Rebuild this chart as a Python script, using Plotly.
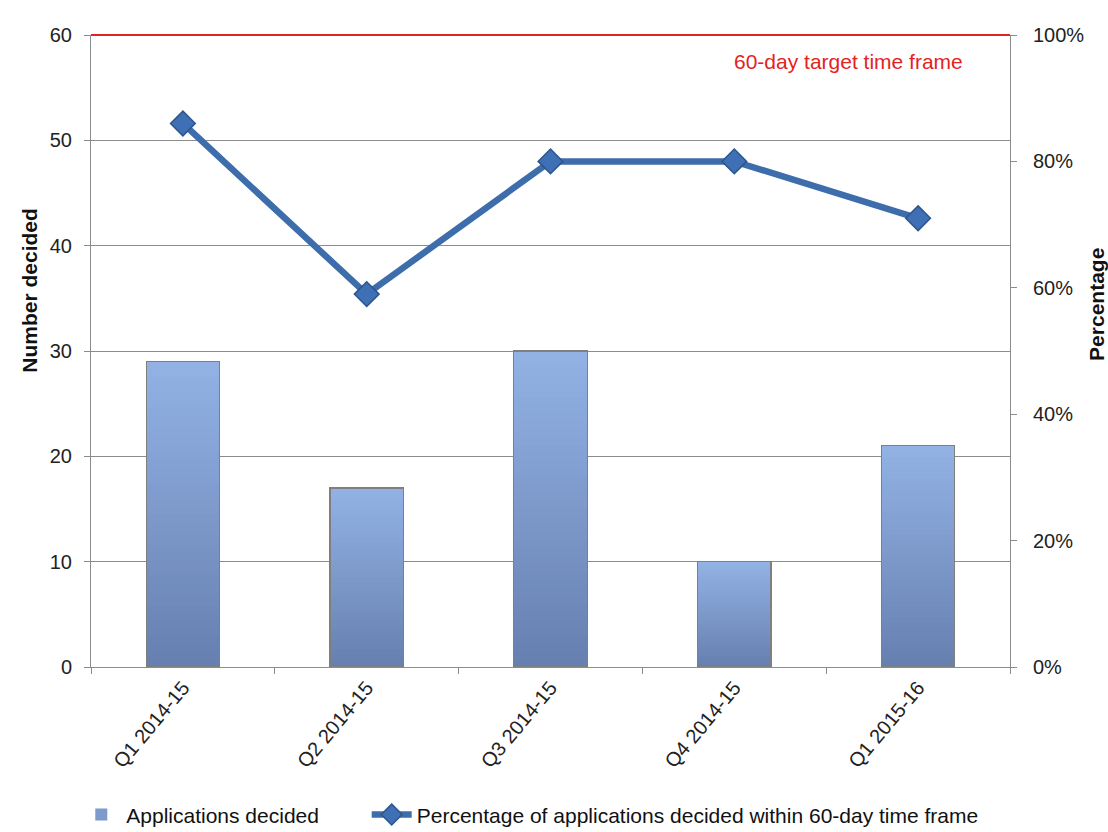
import plotly.graph_objects as go

# Quarterly planning applications data
quarters = ["Q1 2014-15", "Q2 2014-15", "Q3 2014-15", "Q4 2014-15", "Q1 2015-16"]
applications_decided = [29, 17, 30, 10, 21]
pct_within_60_days = [0.86, 0.59, 0.80, 0.80, 0.71]
target_pct = 1.0

FONT = "Liberation Sans, Arial, sans-serif"
GREY = "#8C8C8C"

# vertical gradient for the bars: bottom colour -> top colour
N_BANDS = 40
bottom_rgb = (102, 128, 176)
top_rgb = (146, 178, 228)


def band_colour(i):
    t = i / (N_BANDS - 1)
    r, g, b = (round(bottom_rgb[k] + (top_rgb[k] - bottom_rgb[k]) * t) for k in range(3))
    return f"rgb({r},{g},{b})"


fig = go.Figure()

# Bars built as stacked bands so each column shades from dark (bottom) to light (top)
for i in range(N_BANDS):
    fig.add_trace(go.Bar(
        x=quarters,
        y=[v / N_BANDS for v in applications_decided],
        marker=dict(color=band_colour(i), line=dict(width=0)),
        name="Applications decided",
        legendgroup="apps",
        legend="legend",
        showlegend=(i == N_BANDS // 2),
        hoverinfo="skip",
        yaxis="y",
    ))

# Thin grey outline around each bar on a hidden, matching axis
fig.add_trace(go.Bar(
    x=quarters,
    y=applications_decided,
    marker=dict(color="rgba(0,0,0,0)", line=dict(color="#7F7F7F", width=1.2)),
    showlegend=False,
    legendgroup="apps",
    yaxis="y2",
))

# Percentage line on the right-hand axis
fig.add_trace(go.Scatter(
    x=quarters,
    y=pct_within_60_days,
    mode="lines+markers",
    name="Percentage of applications decided within 60-day time frame",
    legend="legend2",
    line=dict(color="#3E6DAC", width=6.5),
    marker=dict(symbol="diamond", size=19, color="#3F6FB5",
                line=dict(color="#2E558C", width=1.5)),
    yaxis="y3",
))

# 60-day target reference line (drawn at the top of the percentage scale)
fig.add_shape(type="line", xref="paper", x0=0, x1=1, yref="paper",
              y0=target_pct, y1=target_pct, layer="above",
              line=dict(color="#E3231F", width=2.2))
fig.add_annotation(text="60-day target time frame", xref="paper", yref="y3",
                   x=0.951, y=0.958, xanchor="right", yanchor="middle",
                   showarrow=False, font=dict(family=FONT, size=21, color="#E3231F"))

# Axis titles
fig.add_annotation(text="<b>Number decided</b>", xref="paper", yref="paper",
                   x=-0.0664, y=0.597, xanchor="center", yanchor="middle",
                   textangle=-90, showarrow=False,
                   font=dict(family=FONT, size=21, color="#111111"))
fig.add_annotation(text="<b>Percentage</b>", xref="paper", yref="paper",
                   x=1.0947, y=0.573, xanchor="center", yanchor="middle",
                   textangle=-90, showarrow=False,
                   font=dict(family=FONT, size=21, color="#111111"))

legend_style = dict(orientation="h", y=-0.234, xanchor="left", yanchor="middle",
                    font=dict(family=FONT, size=21, color="#111111"),
                    itemwidth=40, bgcolor="rgba(0,0,0,0)")

fig.update_layout(
    width=1108, height=832,
    margin=dict(l=91, r=98, t=35, b=165, autoexpand=False),
    paper_bgcolor="white", plot_bgcolor="white",
    font=dict(family=FONT, size=20, color="#222222"),
    barmode="stack", bargap=0.6,
    showlegend=True,
    legend=dict(x=-0.016, **legend_style),
    legend2=dict(x=0.300, **legend_style),
    xaxis=dict(
        showline=True, linecolor=GREY, linewidth=1,
        ticks="outside", tickson="boundaries", ticklen=6, tickcolor=GREY,
        tickangle=-50, tickfont=dict(family=FONT, size=20, color="#222222"),
        showgrid=False, automargin=False,
    ),
    yaxis=dict(
        range=[0, 60], dtick=10,
        showline=True, linecolor=GREY, linewidth=1,
        ticks="outside", ticklen=6, tickcolor=GREY,
        showgrid=True, gridcolor=GREY, gridwidth=1, zeroline=False,
        tickfont=dict(family=FONT, size=20, color="#222222"),
        ticklabelstandoff=8, automargin=False,
    ),
    yaxis2=dict(range=[0, 60], overlaying="y", visible=False),
    yaxis3=dict(
        range=[0, 1], dtick=0.2, tickformat=".0%",
        overlaying="y", side="right",
        showline=True, linecolor=GREY, linewidth=1,
        ticks="outside", ticklen=6, tickcolor=GREY,
        showgrid=False, zeroline=False,
        tickfont=dict(family=FONT, size=20, color="#222222"),
        ticklabelstandoff=12, automargin=False,
    ),
)

fig.write_html("out.html")
